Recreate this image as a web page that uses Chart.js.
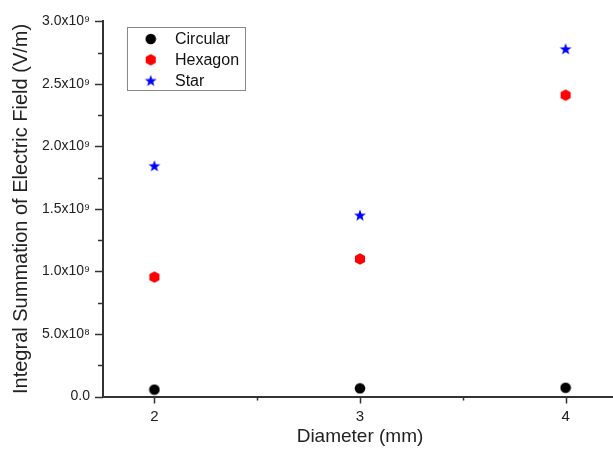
<!DOCTYPE html>
<html><head><meta charset="utf-8">
<script src="https://cdn.jsdelivr.net/npm/chart.js@4/dist/chart.umd.min.js"></script>
<style>
html,body{margin:0;padding:0;overflow:hidden;background:#fff;}
#wrap{width:624px;height:459px;position:relative;}
</style>
</head><body>
<div id="wrap"><canvas id="c" width="624" height="459"></canvas></div>
<script>
// ---- data ----
const diameters = [2, 3, 4];
const circular = [5.5e7, 6.5e7, 7.0e7];
const hexagon = [0.955e9, 1.10e9, 2.41e9];
const star = [1.845e9, 1.45e9, 2.78e9];
const seriesNames = ['Circular', 'Hexagon', 'Star'];
const yTicks = [0, 5e8, 1e9, 1.5e9, 2e9, 2.5e9, 3e9];
const yTickLabels = ['0.0', '5.0x10⁸', '1.0x10⁹', '1.5x10⁹', '2.0x10⁹', '2.5x10⁹', '3.0x10⁹'];
const xTicks = [2, 3, 4];
const xTickLabels = ['2', '3', '4'];

// ---- marker images ----
function makeCanvas(size, draw) {
  const c = document.createElement('canvas');
  c.width = size; c.height = size;
  const g = c.getContext('2d');
  draw(g, size / 2);
  return c;
}
const circleImg = makeCanvas(12, (g, m) => {
  g.fillStyle = '#000'; g.beginPath(); g.arc(m, m, 5.3, 0, Math.PI * 2); g.fill();
});
const hexImg = makeCanvas(14, (g, m) => {
  g.fillStyle = '#ff0000'; g.beginPath();
  for (let i = 0; i < 6; i++) {
    const a = -Math.PI / 2 + i * Math.PI / 3;
    const px = m + 5.8 * Math.cos(a), py = m + 5.8 * Math.sin(a);
    i ? g.lineTo(px, py) : g.moveTo(px, py);
  }
  g.closePath(); g.fill();
});
const starImg = makeCanvas(14, (g, m) => {
  g.fillStyle = '#0000ff'; g.beginPath();
  for (let i = 0; i < 10; i++) {
    const r = i % 2 ? 2.6 : 6.2;
    const a = -Math.PI / 2 + i * Math.PI / 5;
    const px = m + r * Math.cos(a), py = m + 0.5 + r * Math.sin(a);
    i ? g.lineTo(px, py) : g.moveTo(px, py);
  }
  g.closePath(); g.fill();
});
const markerImgs = [circleImg, hexImg, starImg];
const seriesValues = [circular, hexagon, star];

const FONT = "'Liberation Sans', Arial, sans-serif";
const AXIS_COLOR = '#333';

// ---- custom ticks (major & minor) and boxed legend ----
const tickPlugin = {
  id: 'originTicks',
  afterDraw(chart) {
    const ctx = chart.ctx;
    const xs = chart.scales.x, ys = chart.scales.y;
    const ca = chart.chartArea;
    ctx.save();
    ctx.strokeStyle = AXIS_COLOR;
    ctx.lineWidth = 1.5;
    ctx.beginPath();
    yTicks.forEach((v, i) => {
      const py = Math.round(ys.getPixelForValue(v)) + 0.5;
      ctx.moveTo(ca.left - 8, py); ctx.lineTo(ca.left, py);
      if (i < yTicks.length - 1) {
        const pm = Math.round(ys.getPixelForValue((v + yTicks[i + 1]) / 2)) + 0.5;
        ctx.moveTo(ca.left - 5, pm); ctx.lineTo(ca.left, pm);
      }
    });
    xTicks.forEach((v, i) => {
      const px = Math.round(xs.getPixelForValue(v)) + 0.5;
      ctx.moveTo(px, ca.bottom); ctx.lineTo(px, ca.bottom + 7);
      if (i < xTicks.length - 1) {
        const pm = Math.round(xs.getPixelForValue((v + xTicks[i + 1]) / 2)) + 0.5;
        ctx.moveTo(pm, ca.bottom); ctx.lineTo(pm, ca.bottom + 4);
      }
    });
    ctx.stroke();

    // legend box
    const bx = 127.5, by = 27.5, bw = 118, bh = 63;
    ctx.fillStyle = '#fff';
    ctx.fillRect(bx, by, bw, bh);
    ctx.strokeStyle = '#888';
    ctx.lineWidth = 1;
    ctx.strokeRect(bx, by, bw, bh);
    ctx.font = '16px ' + FONT;
    ctx.fillStyle = '#111';
    ctx.textBaseline = 'middle';
    ctx.textAlign = 'left';
    seriesNames.forEach((name, i) => {
      const ry = 39 + i * 20.8;
      const img = markerImgs[i];
      ctx.drawImage(img, 150.7 - img.width / 2, ry - img.height / 2);
      ctx.fillText(name, 175, ry + 1);
    });
    ctx.restore();
  }
};

const datasets = seriesNames.map((name, i) => ({
  label: name,
  data: diameters.map((d, j) => ({ x: d, y: seriesValues[i][j] })),
  pointStyle: markerImgs[i],
  pointRadius: 6,
  pointHoverRadius: 6,
  showLine: false
}));

new Chart(document.getElementById('c'), {
  type: 'scatter',
  data: { datasets },
  plugins: [tickPlugin],
  options: {
    responsive: false,
    animation: false,
    events: [],
    layout: { padding: { left: 0, top: 17, right: 2, bottom: 0 } },
    plugins: { legend: { display: false }, tooltip: { enabled: false } },
    scales: {
      x: {
        type: 'linear',
        min: 1.75, max: 4.25,
        afterBuildTicks: (s) => { s.ticks = xTicks.map(v => ({ value: v })); },
        afterFit: (s) => { s.height = 62.5; },
        ticks: {
          padding: 11,
          color: '#222',
          font: { family: FONT, size: 15 },
          callback: (v) => xTickLabels[xTicks.indexOf(v)]
        },
        grid: { display: false, drawTicks: false },
        border: { display: true, color: AXIS_COLOR, width: 2 },
        title: {
          display: true, text: 'Diameter (mm)', color: '#222',
          font: { family: FONT, size: 19 }, padding: { top: 0, bottom: 10.5 }
        }
      },
      y: {
        type: 'linear',
        min: 0, max: 3e9,
        afterBuildTicks: (s) => { s.ticks = yTicks.map(v => ({ value: v })); },
        afterFit: (s) => { s.width = 103; },
        ticks: {
          padding: 13,
          color: '#222',
          font: { family: FONT, size: 14 },
          callback: (v) => yTickLabels[yTicks.indexOf(v)]
        },
        grid: { display: false, drawTicks: false },
        border: { display: true, color: AXIS_COLOR, width: 2 },
        title: {
          display: true, text: 'Integral Summation of Electric Field (V/m)', color: '#222',
          font: { family: FONT, size: 20 }, padding: { top: 9.5, bottom: 0 }
        }
      }
    }
  }
});
</script>
</body></html>
